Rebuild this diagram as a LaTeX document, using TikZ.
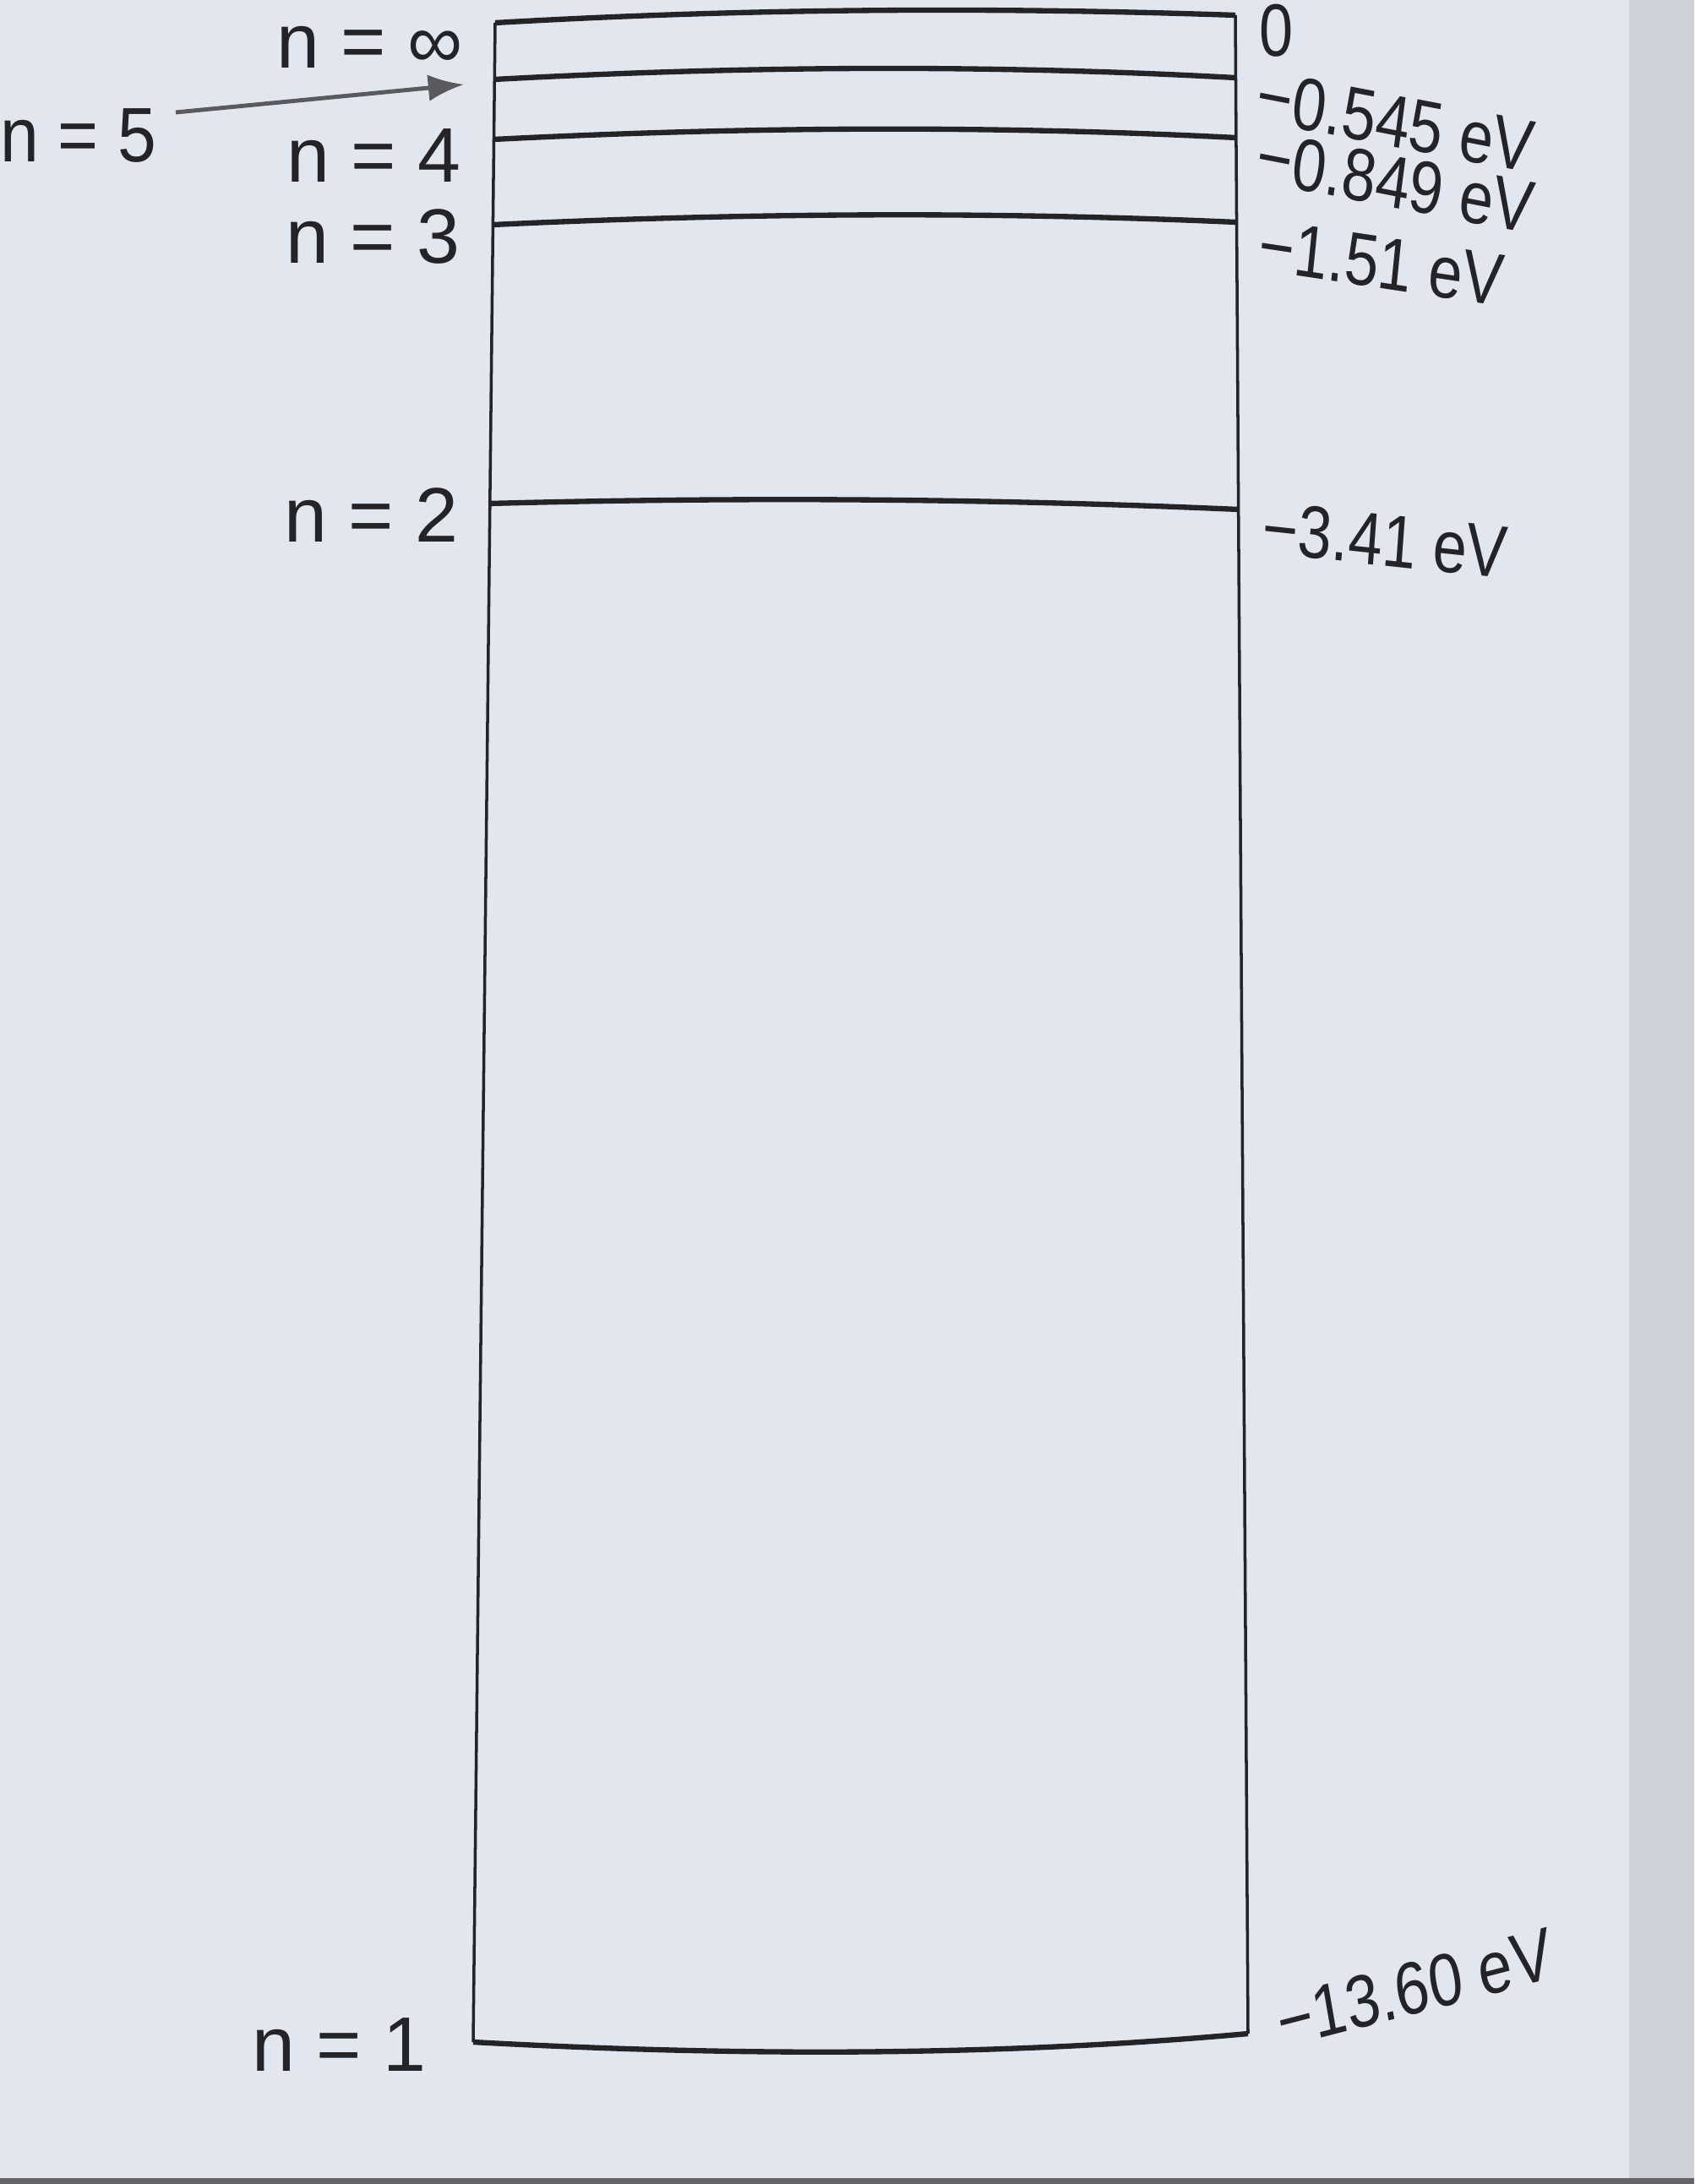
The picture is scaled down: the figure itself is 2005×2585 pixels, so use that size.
\documentclass[tikz,border=0pt]{standalone}
\usepackage{fontspec}
\setmainfont{Liberation Sans}
\usetikzlibrary{arrows.meta}
\definecolor{paper}{RGB}{226,230,238}
\definecolor{edgegray}{RGB}{206,209,216}
\definecolor{ink}{RGB}{35,35,40}
\begin{document}
\begin{tikzpicture}[x=0.01cm,y=-0.01cm,
  level/.style={draw=ink,line width=1.8pt},
  side/.style={draw=ink,line width=1.0pt},
  nlab/.style={anchor=east,inner sep=0pt,font=\fontsize{26}{30}\selectfont,text=ink},
  elab/.style={anchor=west,inner sep=0pt,font=\fontsize{25}{30}\selectfont,text=ink,xscale=0.82}]
\useasboundingbox (0,0) rectangle (2005,2585);
\fill[paper] (0,0) rectangle (2005,2585);
\fill[edgegray] (1928,0) rectangle (2005,2585);
\fill[ink!70] (0,2578) rectangle (2005,2585);
% level end points
\coordinate (Linf) at (586,27);  \coordinate (Rinf) at (1462,18);
\coordinate (L5) at (585,94);    \coordinate (R5) at (1462,92);
\coordinate (L4) at (584,165);   \coordinate (R4) at (1463,163);
\coordinate (L3) at (583,266);   \coordinate (R3) at (1463,263);
\coordinate (L2) at (578,596);   \coordinate (R2) at (1466,603);
\coordinate (L1) at (560,2417);  \coordinate (R1) at (1477,2407);
% box sides
\draw[side] (Linf) -- (L1);
\draw[side] (Rinf) -- (R1);
% levels (slightly bowed as in the photo)
\draw[level] (Linf) .. controls (880,10) and (1170,8) .. (Rinf);
\draw[level] (L5) .. controls (880,78) and (1170,76) .. (R5);
\draw[level] (L4) .. controls (880,150) and (1170,148) .. (R4);
\draw[level] (L3) .. controls (880,252) and (1170,250) .. (R3);
\draw[level] (L2) .. controls (880,588) and (1170,590) .. (R2);
\draw[level] (L1) .. controls (870,2434) and (1180,2434) .. (R1);
% left labels
\node[nlab] (ninf) at (548,56) {n = ∞};
\node[nlab,xscale=0.9] (n5) at (186,160) {n = 5};
\node[nlab] (n4) at (546,184) {n = 4};
\node[nlab] (n3) at (545,280) {n = 3};
\node[nlab] (n2) at (543,610) {n = 2};
\node[nlab] (n1) at (505,2420) {n = 1};
\coordinate (arrtip) at (549,100);
\draw[draw=ink!75,line width=1.4pt,-{Latex[length=12pt,width=9pt]}] (n5.east) ++(22,-27) -- (arrtip);
% right labels
\node[elab] (e0) at (1490,36) {0};
\node[elab,rotate=-9] (e5) at (1488,112) {−0.545 eV};
\node[elab,rotate=-9] (e4) at (1488,184) {−0.849 eV};
\node[elab,rotate=-7] (e3) at (1490,290) {−1.51 eV};
\node[elab,rotate=-5] (e2) at (1494,624) {−3.41 eV};
\node[elab,rotate=12] (e1) at (1512,2395) {−13.60 eV};
\end{tikzpicture}
\end{document}
